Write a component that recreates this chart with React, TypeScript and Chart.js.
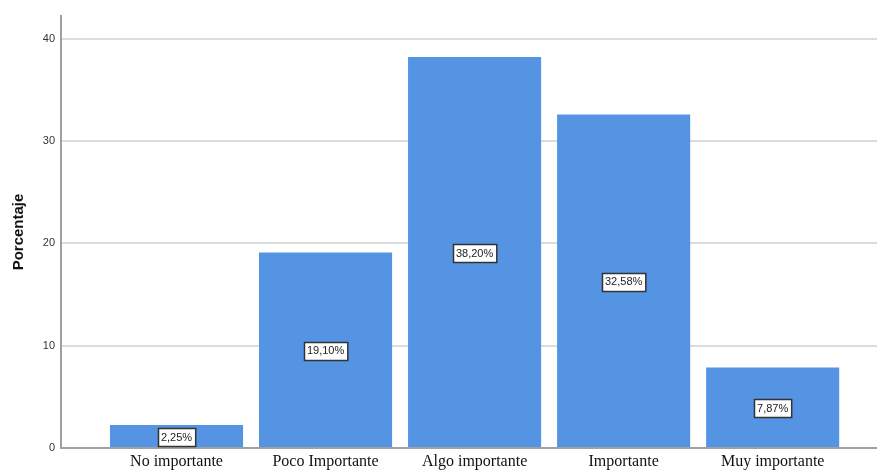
import React, { useEffect, useRef } from "react";
import { Chart, registerables } from "chart.js";

Chart.register(...registerables);

// Response categories and their share of answers (%)
const categories = ["No importante", "Poco Importante", "Algo importante", "Importante", "Muy importante"];
const percentages = [2.25, 19.1, 38.2, 32.58, 7.87];
const yTicks = [0, 10, 20, 30, 40];

const BAR_COLOR = "#5494e3";

// Spanish-style percentage text: 38,20%
const fmt = (v: number) => v.toFixed(2).replace(".", ",") + "%";

// Boxed value label centred in each bar
const valueBoxes = {
  id: "valueBoxes",
  afterDatasetsDraw(chart: any) {
    const { ctx } = chart;
    const meta = chart.getDatasetMeta(0);
    ctx.save();
    ctx.font = "11px 'Liberation Sans', Arial, sans-serif";
    ctx.textAlign = "center";
    ctx.textBaseline = "middle";
    meta.data.forEach((bar: any, i: number) => {
      const text = fmt(percentages[i]);
      const cy = (bar.y + bar.base) / 2 + 1;
      const w = ctx.measureText(text).width + 6;
      const h = 18;
      const left = Math.round(bar.x - w / 2) + 0.5;
      const top = Math.round(cy - h / 2) + 0.5;
      ctx.fillStyle = "#ffffff";
      ctx.fillRect(left, top, w, h);
      ctx.strokeStyle = "#333333";
      ctx.lineWidth = 1.5;
      ctx.strokeRect(left, top, w, h);
      ctx.fillStyle = "#222222";
      ctx.fillText(text, bar.x, cy + 0.5);
    });
    ctx.restore();
  },
};

export default function App() {
  const ref = useRef<HTMLCanvasElement | null>(null);

  useEffect(() => {
    if (!ref.current) return;
    const chart = new Chart(ref.current, {
      type: "bar",
      data: {
        datasets: [
          {
            label: "Porcentaje",
            data: percentages.map((v, i) => ({ x: i + 1, y: v })),
            backgroundColor: BAR_COLOR,
            borderWidth: 0,
            barPercentage: 0.893,
            categoryPercentage: 1,
          },
        ],
      },
      options: {
        animation: false,
        responsive: false,
        devicePixelRatio: 1,
        layout: { padding: { top: 16, right: 0, left: 0, bottom: 0 } },
        plugins: {
          legend: { display: false },
          tooltip: { enabled: false },
        },
        scales: {
          x: {
            type: "linear",
            min: 0.225,
            max: 5.7,
            offset: false,
            grid: { display: false, drawTicks: false },
            border: { display: true, color: "#a0a0a0", width: 2 },
            afterBuildTicks: (axis: any) => {
              axis.ticks = categories.map((_, i) => ({ value: i + 1 }));
            },
            afterFit: (axis: any) => {
              axis.height = 23;
            },
            ticks: {
              autoSkip: false,
              maxRotation: 0,
              padding: 4,
              color: "#111111",
              font: { family: "'Liberation Serif', 'Times New Roman', serif", size: 16 },
              callback: (v: any) => categories[Number(v) - 1] ?? "",
            },
          },
          y: {
            min: 0,
            max: 42.2,
            grid: { color: "#dcdcdc", lineWidth: 2, drawTicks: false },
            border: { display: true, color: "#a0a0a0", width: 2 },
            afterBuildTicks: (axis: any) => {
              axis.ticks = yTicks.map((v) => ({ value: v }));
            },
            afterFit: (axis: any) => {
              axis.width = 61;
            },
            title: {
              display: true,
              text: "Porcentaje",
              color: "#111111",
              font: { family: "'Liberation Sans', Arial, sans-serif", size: 15, weight: "bold" },
              padding: { top: 10, bottom: 0 },
            },
            ticks: {
              padding: 6,
              color: "#333333",
              font: { family: "'Liberation Sans', Arial, sans-serif", size: 11 },
            },
          },
        },
      },
      plugins: [valueBoxes],
    } as any);
    return () => chart.destroy();
  }, []);

  return (
    <div style={{ position: "fixed", left: 0, top: 0, width: 877, height: 471, background: "#ffffff" }}>
      <canvas ref={ref} width={877} height={471} style={{ display: "block" }} />
    </div>
  );
}
